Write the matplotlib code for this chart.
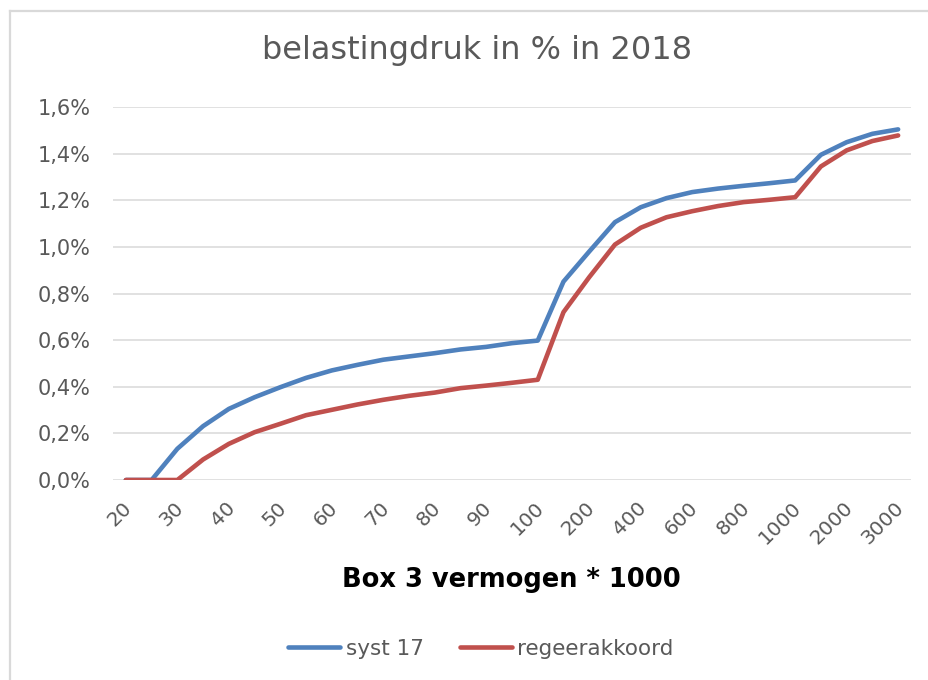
import matplotlib
matplotlib.use('Agg')
import matplotlib.pyplot as plt
from matplotlib.lines import Line2D
from matplotlib.ticker import FuncFormatter
import matplotlib.transforms as mtransforms

# Box 3 vermogen (x 1000), one point per category
categories = [20, 25, 30, 35, 40, 45, 50, 55, 60, 65, 70, 75, 80, 85, 90, 95, 100,
              150, 200, 300, 400, 500, 600, 700, 800, 900, 1000,
              1500, 2000, 2500, 3000]
# only every other category carries a label
tick_labels = ['20', '30', '40', '50', '60', '70', '80', '90', '100',
               '200', '400', '600', '800', '1000', '2000', '3000']

# belastingdruk in %
syst17 = [0.0, 0.0, 0.134, 0.231, 0.305, 0.355, 0.398, 0.438, 0.470, 0.494,
          0.516, 0.530, 0.544, 0.560, 0.571, 0.587, 0.598,
          0.851, 0.980, 1.106, 1.170, 1.209, 1.235, 1.250, 1.262, 1.273, 1.285,
          1.395, 1.449, 1.485, 1.504]
regeerakkoord = [0.0, 0.0, 0.0, 0.088, 0.155, 0.205, 0.241, 0.278, 0.301, 0.324,
                 0.344, 0.361, 0.375, 0.394, 0.405, 0.417, 0.430,
                 0.720, 0.870, 1.010, 1.082, 1.127, 1.153, 1.175, 1.192, 1.202, 1.213,
                 1.345, 1.414, 1.454, 1.478]

BLUE = '#4F81BD'
RED = '#C0504D'
TXT = '#595959'
GRID = '#D9D9D9'

W, H = 929, 680
fig = plt.figure(figsize=(W / 100, H / 100), dpi=100)
plt.rcParams['font.family'] = ['DejaVu Sans']

# chart border (only top and left edge are visible in the crop)
fig.add_artist(Line2D([10.5 / W, 10.5 / W], [0, 1 - 10.5 / H], color=GRID, lw=1.6,
                      transform=fig.transFigure))
fig.add_artist(Line2D([10.5 / W, 1.01], [1 - 10.5 / H, 1 - 10.5 / H], color=GRID, lw=1.6,
                      transform=fig.transFigure))

ax = fig.add_axes([113 / W, 1 - 480 / H, (911 - 113) / W, (480 - 107) / H])

x = range(len(categories))
ax.plot(x, syst17, color=BLUE, lw=3.3, solid_capstyle='round', label='syst 17', zorder=3)
ax.plot(x, regeerakkoord, color=RED, lw=3.3, solid_capstyle='round', label='regeerakkoord', zorder=3)

ax.set_xlim(-0.5, len(categories) - 0.5)
ax.set_ylim(0, 1.6)
ax.set_yticks([0, 0.2, 0.4, 0.6, 0.8, 1.0, 1.2, 1.4, 1.6])
ax.yaxis.set_major_formatter(FuncFormatter(lambda v, p: f'{v:.1f}%'.replace('.', ',')))
ax.grid(axis='y', color=GRID, lw=1.1, zorder=0)
ax.set_axisbelow(True)
for s in ax.spines.values():
    s.set_visible(False)

ax.set_xticks(list(range(0, len(categories), 2)))
ax.set_xticklabels(tick_labels, rotation=45, ha='right', va='center',
                   rotation_mode='anchor')
ax.tick_params(axis='x', length=0, pad=18, labelsize=14.5, labelcolor=TXT)
ax.tick_params(axis='y', length=0, pad=16, labelsize=15, labelcolor=TXT)
offset = mtransforms.ScaledTranslation(3 / 100, 0, fig.dpi_scale_trans)
for lab in ax.get_xticklabels():
    lab.set_transform(lab.get_transform() + offset)

fig.text(477 / W, 1 - 50 / H, 'belastingdruk in % in 2018', ha='center', va='center',
         fontsize=23, color=TXT)
fig.text(511 / W, 1 - 580 / H, 'Box 3 vermogen * 1000', ha='center', va='center',
         fontsize=18.5, fontweight='bold', color='black')

handles, labels = ax.get_legend_handles_labels()
fig.legend(handles, labels, loc='center', bbox_to_anchor=(481 / W, 1 - 649 / H),
           ncol=2, frameon=False, fontsize=15.5, handlelength=2.4, handletextpad=0.25,
           columnspacing=1.7, labelcolor=TXT)

fig.savefig('out.png', dpi=100)
